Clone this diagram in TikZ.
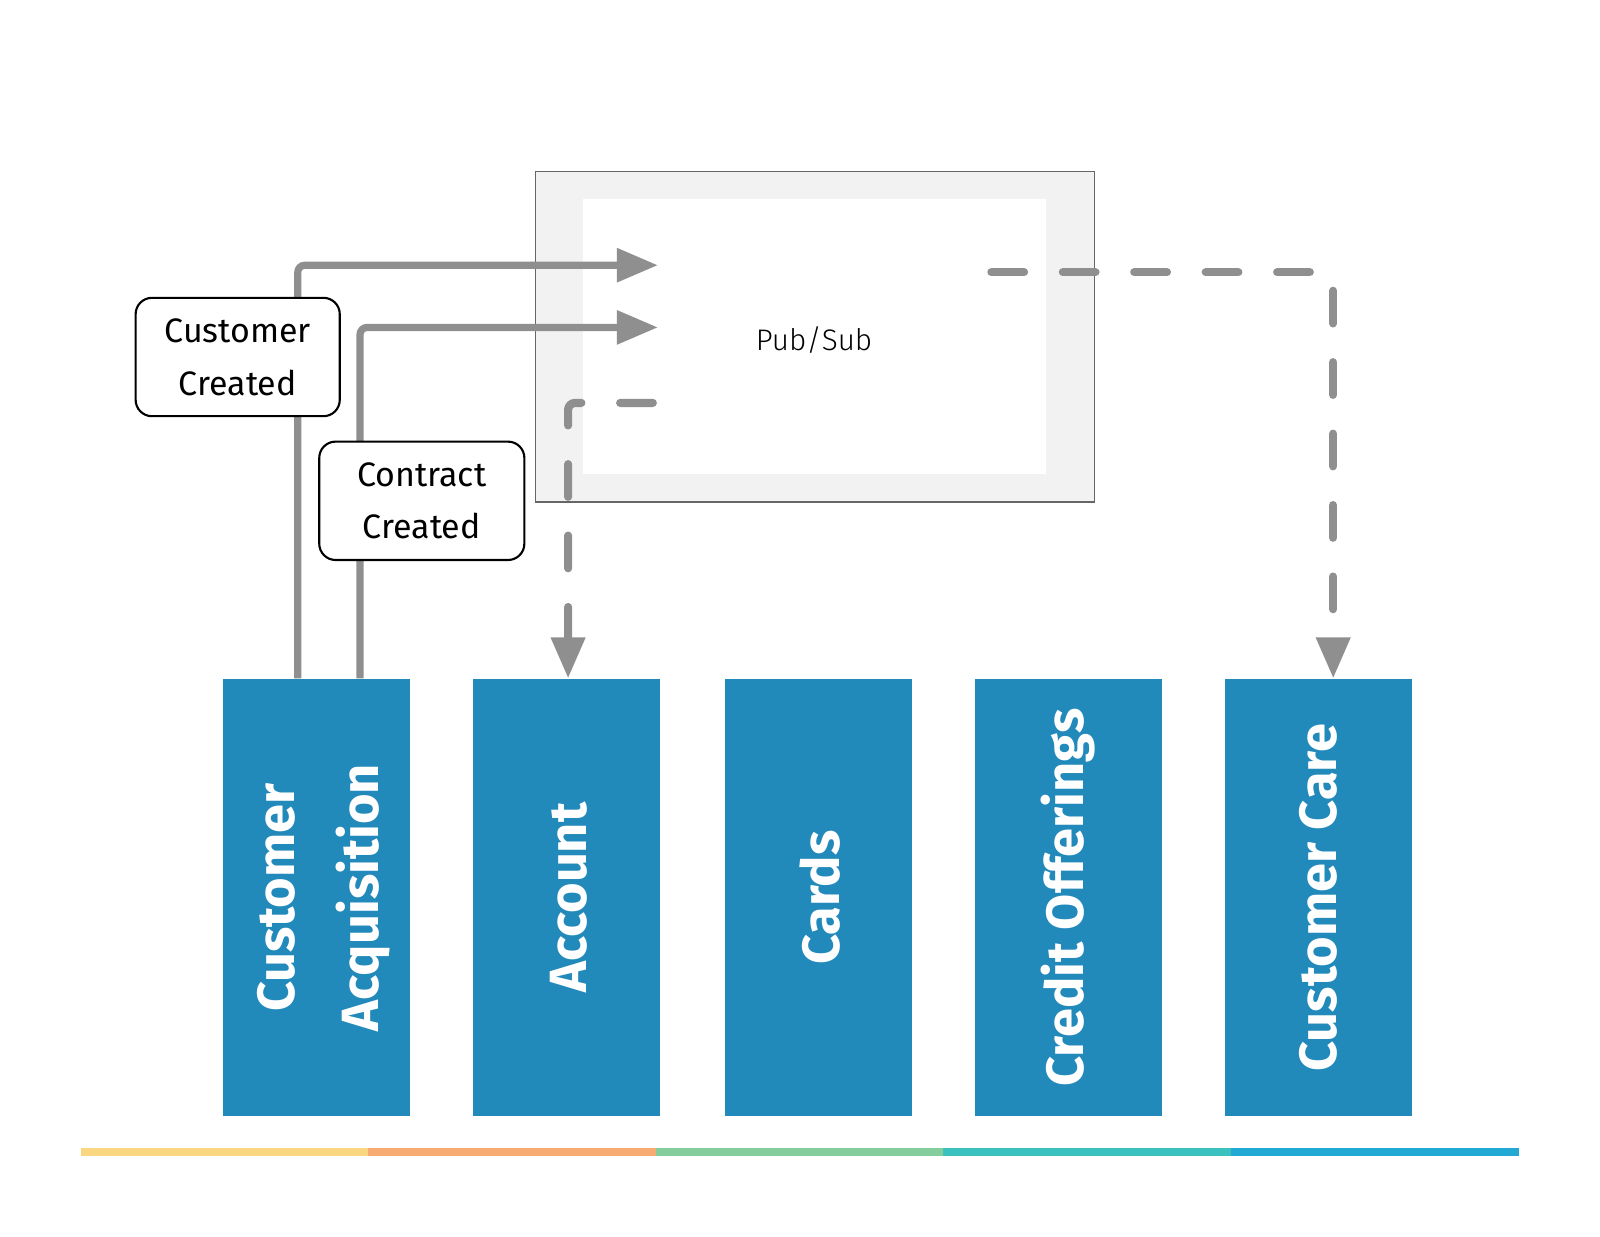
\documentclass[tikz,border=0pt]{standalone}
\usepackage{fontspec}
\setmainfont{Fira Sans}
\newfontfamily\pubfont{Fira Sans Light}
\usepackage{tikz}
\usetikzlibrary{arrows.meta,positioning}

\definecolor{boxblue}{RGB}{34,137,187}
\definecolor{flowgray}{RGB}{143,143,143}
\definecolor{barA}{RGB}{249,214,127}
\definecolor{barB}{RGB}{245,171,115}
\definecolor{barC}{RGB}{134,205,157}
\definecolor{barD}{RGB}{60,193,193}
\definecolor{barE}{RGB}{34,169,211}

\tikzset{
  domainbox/.style={rectangle, fill=boxblue, minimum width=1.867cm, minimum height=4.366cm, inner sep=0pt},
  domaintext/.style={rotate=90, text=white, align=center, font=\bfseries\fontsize{14.9}{23.8}\selectfont},
  event/.style={rectangle, rounded corners=0.163cm, draw=black, line width=0.6pt, fill=white,
    minimum height=1.183cm, align=center, font=\fontsize{9.65}{15}\selectfont},
  flow/.style={draw=flowgray, line width=0.072cm, rounded corners=2pt, -{Triangle[length=0.41cm,width=0.326cm]}},
  subflow/.style={flow, line width=0.082cm, line cap=round, dash pattern=on 0.326cm off 0.388cm},
}

\begin{document}
\begin{tikzpicture}[x=0.01cm, y=-0.01cm]
\useasboundingbox (0,0) rectangle (1600,1236);

% broker
\node[draw=black!60, fill=black!5, minimum width=5.59cm, minimum height=3.305cm, inner sep=0pt] (pubsub) at (815,336.6) {};
\node[fill=white, minimum width=4.62cm, minimum height=2.75cm, inner sep=0pt] (pubsubin) at (814.5,336.6) {};
\node[font=\pubfont\fontsize{8.45}{10}\selectfont] (pubsublabel) at (814,339.7) {Pub/Sub};

% domains
\foreach \name/\x/\dx/\txt in {ca/316.7/0.07/{Customer\\Acquisition}, acc/566.6/0.02/Account, cards/818.6/0.01/Cards,
    credit/1068.5/0/Credit Offerings, care/1318.4/0/Customer Care} {
  \node[domainbox] (\name) at (\x,897.6) {};
  \node[domaintext] (\name-text) at ([xshift=\dx cm]\name.center) {\txt};
}

% where the events meet the broker
\coordinate (in1) at (657.9,265.2);
\coordinate (in2) at (657.9,327.4);
\coordinate (out1) at (652.8,402.9);
\coordinate (out2) at (991.4,272.3);

\draw[flow] ([xshift=-0.189cm]ca.north) |- (in1);
\draw[flow] ([xshift=0.4335cm]ca.north) |- (in2);
\draw[subflow] (out1) -| ([xshift=0.015cm]acc.north);
\draw[subflow] (out2) -| ([xshift=0.148cm]care.north);

% events
\node[event, minimum width=2.04cm] (custcreated) at (237.7,357) {Customer\\Created};
\node[event, minimum width=2.05cm] (contcreated) at (421.8,500.8) {Contract\\Created};

% colour bar
\foreach \c [count=\i from 0] in {barA,barB,barC,barD,barE}
  \fill[\c] (80.6+287.6*\i,1147.5) rectangle ++(287.6,8.2);
\end{tikzpicture}
\end{document}
